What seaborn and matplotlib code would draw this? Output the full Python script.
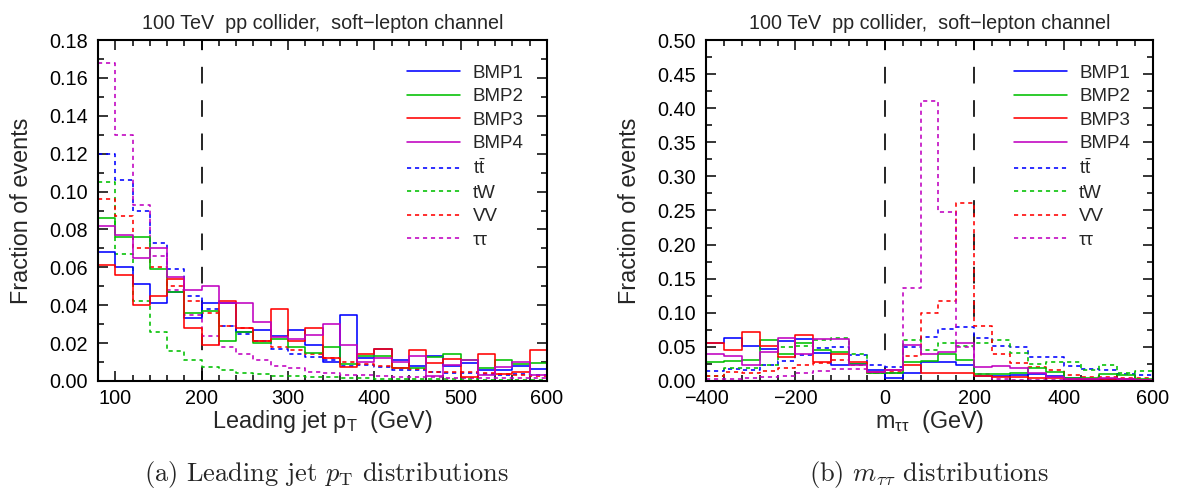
import numpy as np
import pandas as pd
import matplotlib
matplotlib.use("Agg")
import matplotlib.pyplot as plt
import seaborn as sns
from matplotlib.ticker import MultipleLocator, FormatStrFormatter
from matplotlib.lines import Line2D

# ---------------- data ----------------
series = ["BMP1", "BMP2", "BMP3", "BMP4", "tt", "tW", "VV", "tautau"]
legend_labels = ["BMP1", "BMP2", "BMP3", "BMP4", r"$\mathrm{t\bar{t}}$", "tW", "VV", "ττ"]

# Leading jet pT, 20 GeV bins from 80 to 600 GeV
pt_lo, pt_hi, pt_w = 80, 600, 20
pt_BMP1 = [0.068, 0.060, 0.051, 0.041, 0.047, 0.033, 0.041, 0.041, 0.026, 0.027, 0.024, 0.027, 0.019,
           0.010, 0.035, 0.012, 0.017, 0.011, 0.008, 0.013, 0.008, 0.0095, 0.006, 0.006, 0.008, 0.0065]
pt_BMP2 = [0.086, 0.076, 0.076, 0.059, 0.047, 0.036, 0.037, 0.021, 0.026, 0.020, 0.022, 0.018, 0.015,
           0.018, 0.009, 0.013, 0.013, 0.0068, 0.0069, 0.0125, 0.0143, 0.011, 0.0069, 0.011, 0.009, 0.0093]
pt_BMP3 = [0.061, 0.056, 0.040, 0.045, 0.054, 0.028, 0.019, 0.042, 0.028, 0.021, 0.038, 0.021, 0.028,
           0.012, 0.0072, 0.014, 0.017, 0.007, 0.0166, 0.0093, 0.0116, 0.0023, 0.014, 0.0035, 0.0045, 0.0166]
pt_BMP4 = [0.082, 0.077, 0.065, 0.070, 0.055, 0.048, 0.050, 0.041, 0.041, 0.031, 0.023, 0.022, 0.0245,
           0.030, 0.019, 0.010, 0.012, 0.010, 0.013, 0.0025, 0.0086, 0.0113, 0.0034, 0.0072, 0.0098, 0.0034]
pt_tt = [0.120, 0.106, 0.090, 0.073, 0.059, 0.045, 0.038, 0.029, 0.025, 0.021, 0.017, 0.0144, 0.0125,
         0.011, 0.008, 0.0085, 0.0075, 0.006, 0.006, 0.0045, 0.004, 0.004, 0.0035, 0.003, 0.0035, 0.003]
pt_tW = [0.105, 0.067, 0.042, 0.026, 0.016, 0.011, 0.0074, 0.006, 0.0042, 0.0035, 0.0025, 0.0025, 0.002,
         0.002, 0.0015, 0.0015, 0.0012, 0.001, 0.001, 0.001, 0.0008, 0.0008, 0.0007, 0.0007, 0.0006, 0.0006]
pt_VV = [0.096, 0.087, 0.070, 0.060, 0.050, 0.042, 0.036, 0.029, 0.028, 0.021, 0.018, 0.0166, 0.014,
         0.012, 0.010, 0.009, 0.008, 0.007, 0.0065, 0.005, 0.0048, 0.0045, 0.004, 0.0035, 0.003, 0.0025]
pt_tautau = [0.168, 0.130, 0.093, 0.066, 0.048, 0.035, 0.024, 0.018, 0.014, 0.011, 0.008, 0.007, 0.0048,
             0.004, 0.003, 0.003, 0.0025, 0.002, 0.002, 0.002, 0.0018, 0.0016, 0.0015, 0.0015, 0.0015, 0.0015]

# m_tautau, 40 GeV bins from -400 to 600 GeV
m_lo, m_hi, m_w = -400, 600, 40
m_BMP1 = [0.055, 0.063, 0.051, 0.047, 0.058, 0.062, 0.041, 0.024, 0.025, 0.0156, 0.005, 0.012, 0.028,
          0.028, 0.024, 0.008, 0.0066, 0.0087, 0.0098, 0.007, 0.004, 0.003, 0.003, 0.003, 0.002]
m_BMP2 = [0.028, 0.029, 0.031, 0.060, 0.039, 0.055, 0.046, 0.042, 0.025, 0.011, 0.012, 0.028, 0.030,
          0.039, 0.031, 0.0098, 0.0098, 0.0115, 0.0186, 0.0125, 0.0049, 0.004, 0.0098, 0.0081, 0.003]
m_BMP3 = [0.055, 0.045, 0.072, 0.052, 0.035, 0.067, 0.028, 0.039, 0.028, 0.013, 0.016, 0.023, 0.011,
          0.011, 0.011, 0.007, 0.0056, 0.0056, 0.005, 0.004, 0.003, 0.003, 0.003, 0.003, 0.002]
m_BMP4 = [0.039, 0.037, 0.024, 0.042, 0.063, 0.040, 0.062, 0.062, 0.024, 0.013, 0.016, 0.053, 0.040,
          0.042, 0.056, 0.020, 0.022, 0.0196, 0.011, 0.0056, 0.0036, 0.003, 0.004, 0.003, 0.002]
m_tt = [0.0146, 0.018, 0.016, 0.023, 0.029, 0.038, 0.048, 0.050, 0.0375, 0.024, 0.020, 0.050, 0.064,
        0.0766, 0.079, 0.063, 0.051, 0.050, 0.035, 0.035, 0.022, 0.018, 0.0155, 0.0098, 0.0083]
m_tW = [0.008, 0.0186, 0.0196, 0.023, 0.050, 0.052, 0.060, 0.063, 0.040, 0.011, 0.012, 0.0595, 0.046,
        0.055, 0.051, 0.055, 0.060, 0.0415, 0.025, 0.028, 0.028, 0.016, 0.023, 0.0115, 0.0146]
m_VV = [0.008, 0.013, 0.011, 0.015, 0.0196, 0.024, 0.026, 0.031, 0.023, 0.012, 0.013, 0.036, 0.100,
        0.118, 0.261, 0.080, 0.039, 0.026, 0.021, 0.016, 0.0087, 0.0055, 0.0055, 0.005, 0.005]
m_tautau = [0.0035, 0.0035, 0.005, 0.0064, 0.007, 0.011, 0.015, 0.018, 0.018, 0.012, 0.012, 0.136, 0.411,
            0.248, 0.050, 0.010, 0.003, 0.002, 0.0015, 0.0015, 0.0015, 0.0015, 0.0015, 0.0015, 0.0015]

pt_data = [pt_BMP1, pt_BMP2, pt_BMP3, pt_BMP4, pt_tt, pt_tW, pt_VV, pt_tautau]
m_data = [m_BMP1, m_BMP2, m_BMP3, m_BMP4, m_tt, m_tW, m_VV, m_tautau]

title_text = "100 TeV  pp collider,  soft\u2212lepton channel"
caption_a = r"(a) Leading jet $p_{\mathrm{T}}$ distributions"
caption_b = r"(b) $m_{\tau\tau}$ distributions"

# ---------------- style ----------------
sns.set_theme(style="ticks")
plt.rcParams["font.family"] = ["Liberation Sans", "DejaVu Sans"]
plt.rcParams["mathtext.fontset"] = "custom"
plt.rcParams["mathtext.rm"] = "Liberation Sans"
plt.rcParams["mathtext.it"] = "Liberation Sans:italic"
plt.rcParams["mathtext.bf"] = "Liberation Sans:bold"

colors = ["#0000ff", "#00c000", "#ff0000", "#c000c0", "#0000ff", "#00c000", "#ff0000", "#c000c0"]
dot = (0, (2.6, 2.4))
styles = ["-", "-", "-", "-", dot, dot, dot, dot]
LW = 1.15

fig = plt.figure(figsize=(11.8, 4.93), dpi=100)
ax1 = fig.add_axes([98 / 1180, 1 - 381 / 493, 449 / 1180, 341 / 493])
ax2 = fig.add_axes([706 / 1180, 1 - 381 / 493, 447 / 1180, 341 / 493])


def draw(ax, data, lo, hi, w):
    nbins = int(round((hi - lo) / w))
    centers = lo + w * (np.arange(nbins) + 0.5)
    order = [4, 5, 6, 7, 0, 1, 2, 3]
    for i in order:
        df = pd.DataFrame({"x": centers, "frac": np.asarray(data[i], dtype=float)})
        sns.histplot(data=df, x="x", weights="frac", bins=nbins, binrange=(lo, hi),
                     element="step", fill=False,
                     color=colors[i], linestyle=styles[i], linewidth=LW, ax=ax)


draw(ax1, pt_data, pt_lo, pt_hi, pt_w)
draw(ax2, m_data, m_lo, m_hi, m_w)

dash = (1.5, (10, 10))
ax1.axvline(200, color="black", linestyle=dash, linewidth=1.2, zorder=1)
ax2.axvline(0, color="black", linestyle=dash, linewidth=1.2, zorder=1)
ax2.axvline(200, color="black", linestyle=dash, linewidth=1.2, zorder=1)

TICK_FS = 14.3
LABEL_FS = 16.8

for ax in (ax1, ax2):
    for s in ax.spines.values():
        s.set_visible(True)
        s.set_linewidth(1.5)
        s.set_color("black")
    ax.tick_params(which="both", direction="in", top=True, right=True, colors="black",
                   labelsize=TICK_FS, width=1.1)
    ax.tick_params(which="major", length=7)
    ax.tick_params(which="minor", length=4)
    ax.tick_params(axis="y", which="major", pad=7.5)
    ax.tick_params(axis="x", which="major", pad=5.5)
    ax.set_title(title_text, fontsize=14.2, pad=8)
    ax.set_ylabel("Fraction of events", fontsize=LABEL_FS, labelpad=11.5)

ax1.set_xlim(pt_lo, pt_hi)
ax1.set_ylim(0, 0.18)
ax1.xaxis.set_major_locator(MultipleLocator(100))
ax1.xaxis.set_minor_locator(MultipleLocator(20))
ax1.yaxis.set_major_locator(MultipleLocator(0.02))
ax1.yaxis.set_minor_locator(MultipleLocator(0.01))
ax1.yaxis.set_major_formatter(FormatStrFormatter("%.2f"))
ax1.set_xlabel(r"Leading jet p$_{\mathrm{T}}$  (GeV)", fontsize=LABEL_FS, labelpad=0)

ax2.set_xlim(m_lo, m_hi)
ax2.set_ylim(0, 0.5)
ax2.xaxis.set_major_locator(MultipleLocator(200))
ax2.xaxis.set_minor_locator(MultipleLocator(40))
ax2.yaxis.set_major_locator(MultipleLocator(0.05))
ax2.yaxis.set_minor_locator(MultipleLocator(0.025))
ax2.yaxis.set_major_formatter(FormatStrFormatter("%.2f"))
ax2.set_xlabel(r"m$_{\mathrm{\tau\tau}}$  (GeV)", fontsize=LABEL_FS, labelpad=0)

handles = [Line2D([], [], color=colors[i], linestyle=styles[i], linewidth=LW) for i in range(8)]
for ax in (ax1, ax2):
    ax.legend(handles, legend_labels, loc="upper left", bbox_to_anchor=(0.688, 0.928),
              frameon=False, fontsize=13.5, handlelength=2.85, handletextpad=0.65,
              labelspacing=0.34, borderpad=0, borderaxespad=0)

fig.text(326 / 1180, 1 - 475 / 493, caption_a, ha="center", va="center", fontsize=19,
         family="cmr10", math_fontfamily="cm")
fig.text(929 / 1180, 1 - 475 / 493, caption_b, ha="center", va="center", fontsize=19,
         family="cmr10", math_fontfamily="cm")

fig.savefig("out.png", dpi=100)
